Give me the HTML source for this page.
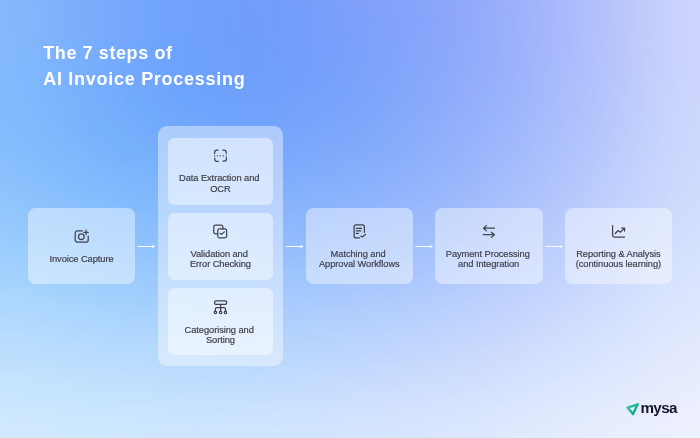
<!DOCTYPE html>
<html lang="en">
<head>
<meta charset="utf-8">
<title>The 7 steps of AI Invoice Processing</title>
<style>
*{margin:0;padding:0;box-sizing:border-box}
html,body{width:700px;height:438px;overflow:hidden;background:#a9c8fd}
body{position:relative;font-family:"Liberation Sans",Arial,sans-serif}
.bg{position:absolute;left:0;top:0;width:700px;height:438px;display:block}
.title{position:absolute;left:43.2px;top:40px;color:#fff;font-weight:700;font-size:18px;line-height:26.4px;white-space:nowrap}
.title span{display:block}
.card{position:absolute;background:rgba(255,255,255,.42);border-radius:7.5px;width:107.4px;height:76.2px;top:208.1px}
.panel{position:absolute;left:157.8px;top:126.3px;width:125.4px;height:239.7px;border-radius:9px;background:rgba(255,255,255,.42)}
.inner{position:absolute;left:168.4px;width:104.4px;height:67px;border-radius:6.5px;background:rgba(255,255,255,.45)}
.lbl{position:absolute;color:#3d3d46;font-size:9.3px;line-height:10.4px;letter-spacing:-.07px;-webkit-text-stroke:.18px #3d3d46;margin-top:.7px;text-align:center;white-space:nowrap;transform:translateX(-50%)}
.fl{position:relative;left:-1.2px}
.stage{position:absolute;left:0;top:0;width:700px;height:438px;will-change:transform}
.ov{position:absolute;left:0;top:0;width:700px;height:438px}
.logo{position:absolute;left:640.4px;top:398.4px;font-weight:700;font-size:15.2px;line-height:20px;color:#15132d;letter-spacing:-0.6px;white-space:nowrap}
</style>
</head>
<body>
<svg class="bg" width="700" height="438" viewBox="0 0 700 438"><defs><filter id="bl" x="-20%" y="-20%" width="140%" height="140%" filterUnits="objectBoundingBox"><feGaussianBlur stdDeviation="22"/></filter></defs><g filter="url(#bl)"><rect x="-100" y="-100" width="51" height="51" fill="#86b9fc"/><rect x="-50" y="-100" width="51" height="51" fill="#86b9fc"/><rect x="0" y="-100" width="51" height="51" fill="#84b6fc"/><rect x="50" y="-100" width="51" height="51" fill="#7caffc"/><rect x="100" y="-100" width="51" height="51" fill="#76a8fc"/><rect x="150" y="-100" width="51" height="51" fill="#71a3fc"/><rect x="200" y="-100" width="51" height="51" fill="#709efb"/><rect x="250" y="-100" width="51" height="51" fill="#739dfb"/><rect x="300" y="-100" width="51" height="51" fill="#7a9efa"/><rect x="350" y="-100" width="51" height="51" fill="#82a0fa"/><rect x="400" y="-100" width="51" height="51" fill="#89a4fb"/><rect x="450" y="-100" width="51" height="51" fill="#93a9fb"/><rect x="500" y="-100" width="51" height="51" fill="#a0b1fc"/><rect x="550" y="-100" width="51" height="51" fill="#adbbfc"/><rect x="600" y="-100" width="51" height="51" fill="#bbc6fc"/><rect x="650" y="-100" width="51" height="51" fill="#cad1fd"/><rect x="700" y="-100" width="51" height="51" fill="#d1d6fd"/><rect x="750" y="-100" width="51" height="51" fill="#d1d6fd"/><rect x="-100" y="-50" width="51" height="51" fill="#86b9fc"/><rect x="-50" y="-50" width="51" height="51" fill="#86b9fc"/><rect x="0" y="-50" width="51" height="51" fill="#84b6fc"/><rect x="50" y="-50" width="51" height="51" fill="#7caffc"/><rect x="100" y="-50" width="51" height="51" fill="#76a8fc"/><rect x="150" y="-50" width="51" height="51" fill="#71a3fc"/><rect x="200" y="-50" width="51" height="51" fill="#709efb"/><rect x="250" y="-50" width="51" height="51" fill="#739dfb"/><rect x="300" y="-50" width="51" height="51" fill="#7a9efa"/><rect x="350" y="-50" width="51" height="51" fill="#82a0fa"/><rect x="400" y="-50" width="51" height="51" fill="#89a4fb"/><rect x="450" y="-50" width="51" height="51" fill="#93a9fb"/><rect x="500" y="-50" width="51" height="51" fill="#a0b1fc"/><rect x="550" y="-50" width="51" height="51" fill="#adbbfc"/><rect x="600" y="-50" width="51" height="51" fill="#bbc6fc"/><rect x="650" y="-50" width="51" height="51" fill="#cad1fd"/><rect x="700" y="-50" width="51" height="51" fill="#d1d6fd"/><rect x="750" y="-50" width="51" height="51" fill="#d1d6fd"/><rect x="-100" y="0" width="51" height="51" fill="#86bafc"/><rect x="-50" y="0" width="51" height="51" fill="#86bafc"/><rect x="0" y="0" width="51" height="51" fill="#83b7fc"/><rect x="50" y="0" width="51" height="51" fill="#7baffc"/><rect x="100" y="0" width="51" height="51" fill="#74a8fc"/><rect x="150" y="0" width="51" height="51" fill="#6fa3fc"/><rect x="200" y="0" width="51" height="51" fill="#6e9efb"/><rect x="250" y="0" width="51" height="51" fill="#719cfb"/><rect x="300" y="0" width="51" height="51" fill="#789efa"/><rect x="350" y="0" width="51" height="51" fill="#80a1fa"/><rect x="400" y="0" width="51" height="51" fill="#87a4fb"/><rect x="450" y="0" width="51" height="51" fill="#92aafb"/><rect x="500" y="0" width="51" height="51" fill="#9fb2fc"/><rect x="550" y="0" width="51" height="51" fill="#acbbfc"/><rect x="600" y="0" width="51" height="51" fill="#bbc6fc"/><rect x="650" y="0" width="51" height="51" fill="#cad2fd"/><rect x="700" y="0" width="51" height="51" fill="#d1d7fd"/><rect x="750" y="0" width="51" height="51" fill="#d1d7fd"/><rect x="-100" y="50" width="51" height="51" fill="#84bbfd"/><rect x="-50" y="50" width="51" height="51" fill="#84bbfd"/><rect x="0" y="50" width="51" height="51" fill="#80b8fd"/><rect x="50" y="50" width="51" height="51" fill="#79b0fc"/><rect x="100" y="50" width="51" height="51" fill="#72a9fc"/><rect x="150" y="50" width="51" height="51" fill="#6da3fc"/><rect x="200" y="50" width="51" height="51" fill="#6b9ffb"/><rect x="250" y="50" width="51" height="51" fill="#6e9dfb"/><rect x="300" y="50" width="51" height="51" fill="#75a0fb"/><rect x="350" y="50" width="51" height="51" fill="#7da3fb"/><rect x="400" y="50" width="51" height="51" fill="#87a7fb"/><rect x="450" y="50" width="51" height="51" fill="#92acfb"/><rect x="500" y="50" width="51" height="51" fill="#9eb4fc"/><rect x="550" y="50" width="51" height="51" fill="#acbdfc"/><rect x="600" y="50" width="51" height="51" fill="#bac7fc"/><rect x="650" y="50" width="51" height="51" fill="#cad3fd"/><rect x="700" y="50" width="51" height="51" fill="#d1d8fd"/><rect x="750" y="50" width="51" height="51" fill="#d1d8fd"/><rect x="-100" y="100" width="51" height="51" fill="#85befd"/><rect x="-50" y="100" width="51" height="51" fill="#85befd"/><rect x="0" y="100" width="51" height="51" fill="#81bafd"/><rect x="50" y="100" width="51" height="51" fill="#7ab3fc"/><rect x="100" y="100" width="51" height="51" fill="#74adfc"/><rect x="150" y="100" width="51" height="51" fill="#70a8fc"/><rect x="200" y="100" width="51" height="51" fill="#70a4fc"/><rect x="250" y="100" width="51" height="51" fill="#73a3fc"/><rect x="300" y="100" width="51" height="51" fill="#79a5fb"/><rect x="350" y="100" width="51" height="51" fill="#80a8fb"/><rect x="400" y="100" width="51" height="51" fill="#8aacfb"/><rect x="450" y="100" width="51" height="51" fill="#95b1fc"/><rect x="500" y="100" width="51" height="51" fill="#a1b8fc"/><rect x="550" y="100" width="51" height="51" fill="#aec1fc"/><rect x="600" y="100" width="51" height="51" fill="#bccbfc"/><rect x="650" y="100" width="51" height="51" fill="#cbd5fd"/><rect x="700" y="100" width="51" height="51" fill="#d1dafd"/><rect x="750" y="100" width="51" height="51" fill="#d1dafd"/><rect x="-100" y="150" width="51" height="51" fill="#8cc3fd"/><rect x="-50" y="150" width="51" height="51" fill="#8cc3fd"/><rect x="0" y="150" width="51" height="51" fill="#88c0fd"/><rect x="50" y="150" width="51" height="51" fill="#81bafd"/><rect x="100" y="150" width="51" height="51" fill="#7cb5fd"/><rect x="150" y="150" width="51" height="51" fill="#7ab1fd"/><rect x="200" y="150" width="51" height="51" fill="#7aaefc"/><rect x="250" y="150" width="51" height="51" fill="#7dacfc"/><rect x="300" y="150" width="51" height="51" fill="#82adfc"/><rect x="350" y="150" width="51" height="51" fill="#89affc"/><rect x="400" y="150" width="51" height="51" fill="#91b2fc"/><rect x="450" y="150" width="51" height="51" fill="#9bb7fc"/><rect x="500" y="150" width="51" height="51" fill="#a7befc"/><rect x="550" y="150" width="51" height="51" fill="#b3c6fc"/><rect x="600" y="150" width="51" height="51" fill="#c0cffd"/><rect x="650" y="150" width="51" height="51" fill="#ccd8fd"/><rect x="700" y="150" width="51" height="51" fill="#d2ddfd"/><rect x="750" y="150" width="51" height="51" fill="#d2ddfd"/><rect x="-100" y="200" width="51" height="51" fill="#96cafd"/><rect x="-50" y="200" width="51" height="51" fill="#96cafd"/><rect x="0" y="200" width="51" height="51" fill="#93c8fd"/><rect x="50" y="200" width="51" height="51" fill="#8ec4fd"/><rect x="100" y="200" width="51" height="51" fill="#89bffd"/><rect x="150" y="200" width="51" height="51" fill="#88bcfd"/><rect x="200" y="200" width="51" height="51" fill="#89b9fd"/><rect x="250" y="200" width="51" height="51" fill="#8bb8fd"/><rect x="300" y="200" width="51" height="51" fill="#90b8fc"/><rect x="350" y="200" width="51" height="51" fill="#95b9fc"/><rect x="400" y="200" width="51" height="51" fill="#9cbcfc"/><rect x="450" y="200" width="51" height="51" fill="#a6c0fc"/><rect x="500" y="200" width="51" height="51" fill="#b0c6fc"/><rect x="550" y="200" width="51" height="51" fill="#bbcdfd"/><rect x="600" y="200" width="51" height="51" fill="#c6d5fd"/><rect x="650" y="200" width="51" height="51" fill="#d0ddfd"/><rect x="700" y="200" width="51" height="51" fill="#d6e0fd"/><rect x="750" y="200" width="51" height="51" fill="#d6e0fd"/><rect x="-100" y="250" width="51" height="51" fill="#a4d2fd"/><rect x="-50" y="250" width="51" height="51" fill="#a4d2fd"/><rect x="0" y="250" width="51" height="51" fill="#a2d1fd"/><rect x="50" y="250" width="51" height="51" fill="#9dcefd"/><rect x="100" y="250" width="51" height="51" fill="#9acafd"/><rect x="150" y="250" width="51" height="51" fill="#99c7fd"/><rect x="200" y="250" width="51" height="51" fill="#9ac5fd"/><rect x="250" y="250" width="51" height="51" fill="#9cc4fd"/><rect x="300" y="250" width="51" height="51" fill="#a0c4fd"/><rect x="350" y="250" width="51" height="51" fill="#a5c5fd"/><rect x="400" y="250" width="51" height="51" fill="#abc7fd"/><rect x="450" y="250" width="51" height="51" fill="#b3cafd"/><rect x="500" y="250" width="51" height="51" fill="#bccffd"/><rect x="550" y="250" width="51" height="51" fill="#c5d5fd"/><rect x="600" y="250" width="51" height="51" fill="#cedbfe"/><rect x="650" y="250" width="51" height="51" fill="#d7e2fe"/><rect x="700" y="250" width="51" height="51" fill="#dce5fe"/><rect x="750" y="250" width="51" height="51" fill="#dce5fe"/><rect x="-100" y="300" width="51" height="51" fill="#b4dbfe"/><rect x="-50" y="300" width="51" height="51" fill="#b4dbfe"/><rect x="0" y="300" width="51" height="51" fill="#b3dafe"/><rect x="50" y="300" width="51" height="51" fill="#afd8fe"/><rect x="100" y="300" width="51" height="51" fill="#acd5fe"/><rect x="150" y="300" width="51" height="51" fill="#abd3fe"/><rect x="200" y="300" width="51" height="51" fill="#acd1fe"/><rect x="250" y="300" width="51" height="51" fill="#aed0fd"/><rect x="300" y="300" width="51" height="51" fill="#b1d0fd"/><rect x="350" y="300" width="51" height="51" fill="#b6d0fd"/><rect x="400" y="300" width="51" height="51" fill="#bbd2fd"/><rect x="450" y="300" width="51" height="51" fill="#c1d4fd"/><rect x="500" y="300" width="51" height="51" fill="#c8d8fd"/><rect x="550" y="300" width="51" height="51" fill="#d0ddfe"/><rect x="600" y="300" width="51" height="51" fill="#d7e2fe"/><rect x="650" y="300" width="51" height="51" fill="#dfe7fe"/><rect x="700" y="300" width="51" height="51" fill="#e2e9fe"/><rect x="750" y="300" width="51" height="51" fill="#e2e9fe"/><rect x="-100" y="350" width="51" height="51" fill="#c3e2fe"/><rect x="-50" y="350" width="51" height="51" fill="#c3e2fe"/><rect x="0" y="350" width="51" height="51" fill="#c2e2fe"/><rect x="50" y="350" width="51" height="51" fill="#c0e0fe"/><rect x="100" y="350" width="51" height="51" fill="#bedffe"/><rect x="150" y="350" width="51" height="51" fill="#bdddfe"/><rect x="200" y="350" width="51" height="51" fill="#bedcfe"/><rect x="250" y="350" width="51" height="51" fill="#c0dbfe"/><rect x="300" y="350" width="51" height="51" fill="#c2dafe"/><rect x="350" y="350" width="51" height="51" fill="#c6dbfe"/><rect x="400" y="350" width="51" height="51" fill="#cadcfd"/><rect x="450" y="350" width="51" height="51" fill="#cfdefd"/><rect x="500" y="350" width="51" height="51" fill="#d5e1fe"/><rect x="550" y="350" width="51" height="51" fill="#dae5fe"/><rect x="600" y="350" width="51" height="51" fill="#e0e8fe"/><rect x="650" y="350" width="51" height="51" fill="#e5ebfe"/><rect x="700" y="350" width="51" height="51" fill="#e8edfe"/><rect x="750" y="350" width="51" height="51" fill="#e8edfe"/><rect x="-100" y="400" width="51" height="51" fill="#d0e9fe"/><rect x="-50" y="400" width="51" height="51" fill="#d0e9fe"/><rect x="0" y="400" width="51" height="51" fill="#d0e8fe"/><rect x="50" y="400" width="51" height="51" fill="#cee8fe"/><rect x="100" y="400" width="51" height="51" fill="#cde7fe"/><rect x="150" y="400" width="51" height="51" fill="#cde6fe"/><rect x="200" y="400" width="51" height="51" fill="#cee5fe"/><rect x="250" y="400" width="51" height="51" fill="#d0e5fe"/><rect x="300" y="400" width="51" height="51" fill="#d2e4fe"/><rect x="350" y="400" width="51" height="51" fill="#d5e4fe"/><rect x="400" y="400" width="51" height="51" fill="#d8e5fe"/><rect x="450" y="400" width="51" height="51" fill="#dce7fe"/><rect x="500" y="400" width="51" height="51" fill="#e0eafe"/><rect x="550" y="400" width="51" height="51" fill="#e4ecfe"/><rect x="600" y="400" width="51" height="51" fill="#e8eefe"/><rect x="650" y="400" width="51" height="51" fill="#ecf0fe"/><rect x="700" y="400" width="51" height="51" fill="#eff2fe"/><rect x="750" y="400" width="51" height="51" fill="#eff2fe"/><rect x="-100" y="450" width="51" height="51" fill="#d4ebfe"/><rect x="-50" y="450" width="51" height="51" fill="#d4ebfe"/><rect x="0" y="450" width="51" height="51" fill="#d3eafe"/><rect x="50" y="450" width="51" height="51" fill="#d2eafe"/><rect x="100" y="450" width="51" height="51" fill="#d1e9fe"/><rect x="150" y="450" width="51" height="51" fill="#d1e8fe"/><rect x="200" y="450" width="51" height="51" fill="#d2e7fe"/><rect x="250" y="450" width="51" height="51" fill="#d4e7fe"/><rect x="300" y="450" width="51" height="51" fill="#d6e6fe"/><rect x="350" y="450" width="51" height="51" fill="#d9e7fe"/><rect x="400" y="450" width="51" height="51" fill="#dce8fe"/><rect x="450" y="450" width="51" height="51" fill="#dfe9fe"/><rect x="500" y="450" width="51" height="51" fill="#e3ebfe"/><rect x="550" y="450" width="51" height="51" fill="#e7edfe"/><rect x="600" y="450" width="51" height="51" fill="#eaeffe"/><rect x="650" y="450" width="51" height="51" fill="#eef2fe"/><rect x="700" y="450" width="51" height="51" fill="#f1f3fe"/><rect x="750" y="450" width="51" height="51" fill="#f1f3fe"/><rect x="-100" y="500" width="51" height="51" fill="#d4ebfe"/><rect x="-50" y="500" width="51" height="51" fill="#d4ebfe"/><rect x="0" y="500" width="51" height="51" fill="#d3eafe"/><rect x="50" y="500" width="51" height="51" fill="#d2eafe"/><rect x="100" y="500" width="51" height="51" fill="#d1e9fe"/><rect x="150" y="500" width="51" height="51" fill="#d1e8fe"/><rect x="200" y="500" width="51" height="51" fill="#d2e7fe"/><rect x="250" y="500" width="51" height="51" fill="#d4e7fe"/><rect x="300" y="500" width="51" height="51" fill="#d6e6fe"/><rect x="350" y="500" width="51" height="51" fill="#d9e7fe"/><rect x="400" y="500" width="51" height="51" fill="#dce8fe"/><rect x="450" y="500" width="51" height="51" fill="#dfe9fe"/><rect x="500" y="500" width="51" height="51" fill="#e3ebfe"/><rect x="550" y="500" width="51" height="51" fill="#e7edfe"/><rect x="600" y="500" width="51" height="51" fill="#eaeffe"/><rect x="650" y="500" width="51" height="51" fill="#eef2fe"/><rect x="700" y="500" width="51" height="51" fill="#f1f3fe"/><rect x="750" y="500" width="51" height="51" fill="#f1f3fe"/></g></svg>
<div class="stage">
<div class="title"><span style="letter-spacing:.6px">The 7 steps of</span><span style="letter-spacing:.72px">AI Invoice Processing</span></div>

<div class="card" style="left:27.8px"></div>
<div class="panel"></div>
<div class="inner" style="top:137.5px"></div>
<div class="inner" style="top:212.75px"></div>
<div class="inner" style="top:288.1px"></div>
<div class="card" style="left:305.7px"></div>
<div class="card" style="left:435.2px"></div>
<div class="card" style="left:564.7px"></div>

<div class="lbl" id="t1" style="left:81.5px;top:253.2px">Invoice Capture</div>
<div class="lbl" id="t2" style="left:220.4px;top:172.6px"><span class="fl">Data Extraction and</span><br>OCR</div>
<div class="lbl" id="t3" style="left:220.4px;top:248.2px"><span class="fl">Validation and</span><br>Error Checking</div>
<div class="lbl" id="t4" style="left:220.4px;top:323.9px"><span class="fl">Categorising and</span><br>Sorting</div>
<div class="lbl" id="t5" style="left:359.3px;top:248.2px"><span class="fl">Matching and</span><br>Approval Workflows</div>
<div class="lbl" id="t6" style="left:488.6px;top:248.2px"><span class="fl" style="left:-.8px">Payment Processing</span><br>and Integration</div>
<div class="lbl" id="t7" style="left:618.4px;top:248.2px">Reporting &amp; Analysis<br>(continuous learning)</div>

<svg class="ov" viewBox="0 0 700 438" fill="none" stroke-linecap="round" stroke-linejoin="round">
<!-- connector arrows -->
<g stroke="#fff" stroke-width="1" fill="#fff" opacity=".95">
  <path d="M137.4 246.5H153.0" stroke-linecap="butt"/><path d="M152.6 245.5L154.9 246.5L152.6 247.5Z" stroke-width=".5"/>
  <path d="M285.8 246.5H301.4" stroke-linecap="butt"/><path d="M301.0 245.5L303.3 246.5L301.0 247.5Z" stroke-width=".5"/>
  <path d="M415.3 246.5H430.9" stroke-linecap="butt"/><path d="M430.5 245.5L432.8 246.5L430.5 247.5Z" stroke-width=".5"/>
  <path d="M545.0 246.5H560.6" stroke-linecap="butt"/><path d="M560.2 245.5L562.5 246.5L560.2 247.5Z" stroke-width=".5"/>
</g>
<g stroke="#42424c" stroke-width="1.25">
  <!-- 1: capture -->
  <path d="M82.3 230.75H77.4a2.2 2.2 0 0 0-2.2 2.2v6.95a2.2 2.2 0 0 0 2.2 2.2h8.6a2.2 2.2 0 0 0 2.2-2.2V236"/>
  <circle cx="81.3" cy="236.7" r="2.8"/>
  <path d="M83.8 232.3h4.5M86.05 230.05v4.5"/>
  <!-- 2: scan -->
  <path d="M214.6 153.7v-1.5a2.2 2.2 0 0 1 2.2-2.2h1.2M222.8 150h1.2a2.2 2.2 0 0 1 2.2 2.2v1.2M226.4 157.7v1.2a2.2 2.2 0 0 1-2.2 2.2h-1.2M218.2 161.4h-1.2a2.2 2.2 0 0 1-2.2-2.2v-1.2"/>
  <path d="M214 155.8h13" stroke-dasharray="1.2 1.7" stroke-linecap="butt" stroke-width="1.4" opacity=".72"/>
  <!-- 3: validation -->
  <path d="M217.75 233.8h-2.2a1.8 1.8 0 0 1-1.8-1.8v-5.2a1.8 1.8 0 0 1 1.8-1.8h5.45a1.8 1.8 0 0 1 1.8 1.8v2.1"/>
  <rect x="217.75" y="228.9" width="8.9" height="9" rx="1.8"/>
  <path d="M220.3 233.4l1.2 1l2.9-2.5"/>
  <!-- 4: categorising -->
  <rect x="214.6" y="300.75" width="12" height="3.55" rx="1.3"/>
  <path d="M220.6 304.3v6.8M215.4 311v-1.8a1.5 1.5 0 0 1 1.5-1.5h7.1a1.5 1.5 0 0 1 1.5 1.5v1.8"/>
  <circle cx="215.4" cy="312.4" r="1.2"/><circle cx="220.6" cy="312.4" r="1.2"/><circle cx="225.5" cy="312.4" r="1.2"/>
  <!-- 5: matching -->
  <path d="M359.4 237.9h-3.3a2 2 0 0 1-2-2v-9.15a2 2 0 0 1 2-2h6.3a2 2 0 0 1 2 2v5.6"/>
  <path d="M356.3 228.3h5.3M356.3 230.8h4.5M356.3 233.4h2.1"/>
  <path d="M360.8 236.1l1.4 1l3.2-2.6"/>
  <!-- 6: payment -->
  <path d="M494.5 228.2h-11M486.5 225.6l-3 2.6l3 2.7M483.3 234.7h11M491.4 232.2l3 2.5l-3 2.7"/>
  <!-- 7: reporting -->
  <path d="M612.6 225.5v9.8a1.8 1.8 0 0 0 1.8 1.8h10.1"/>
  <path d="M615.2 233.5l3-3l2.2 1.7l4-3.8M621.8 228.2h2.8v2.9"/>
</g>
<!-- logo mark -->
<defs><linearGradient id="lg" x1="0" y1="0" x2="1" y2="1"><stop offset="0" stop-color="#2bd0a6"/><stop offset="1" stop-color="#10967c"/></linearGradient></defs>
<path d="M627.55 407.55L637.75 404.3L633 414.1Z" stroke="url(#lg)" stroke-width="2.35"/>
</svg>
<div class="logo">mysa</div>
</div>
</body>
</html>
